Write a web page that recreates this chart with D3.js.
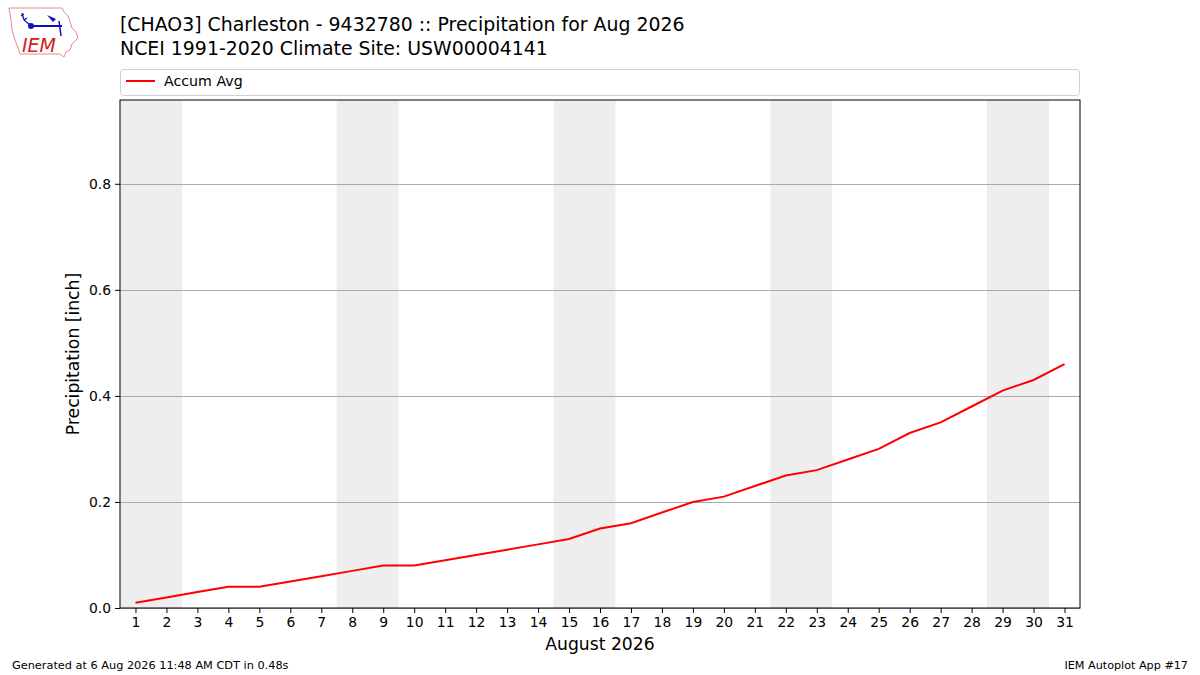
<!DOCTYPE html>
<html>
<head>
<meta charset="utf-8">
<script src="https://cdn.jsdelivr.net/npm/d3@7"></script>
<style>
body { margin: 0; background: #fff; }
text { font-family: "DejaVu Sans", sans-serif; }
</style>
</head>
<body>
<div id="chart"></div>
<script>
// accumulated average precipitation by day of month
var days = d3.range(1, 32);
var accumAvg = [0.01, 0.02, 0.03, 0.04, 0.04, 0.05, 0.06, 0.07, 0.08, 0.08,
                0.09, 0.10, 0.11, 0.12, 0.13, 0.15, 0.16, 0.18, 0.20, 0.21,
                0.23, 0.25, 0.26, 0.28, 0.30, 0.33, 0.35, 0.38, 0.41, 0.43, 0.46];
// weekend pairs (Sat, Sun)
var weekends = [[1, 2], [8, 9], [15, 16], [22, 23], [29, 30]];
var yTicks = [0.0, 0.2, 0.4, 0.6, 0.8];

var width = 1200, height = 675;
var plotLeft = 120, plotRight = 1080, plotTop = 100, plotBottom = 608;

var svg = d3.select("#chart").append("svg")
    .attr("width", width)
    .attr("height", height);

var x = d3.scaleLinear().domain([0.5, 31.5]).range([plotLeft, plotRight]);
var y = d3.scaleLinear().domain([0, 0.958]).range([plotBottom, plotTop]);

// weekend shading
svg.selectAll("rect.wk")
    .data(weekends)
    .enter()
    .append("rect")
    .attr("class", "wk")
    .attr("x", function(d) { return x(d[0] - 0.5); })
    .attr("y", plotTop)
    .attr("width", function(d) { return x(d[1] + 0.5) - x(d[0] - 0.5); })
    .attr("height", plotBottom - plotTop)
    .attr("fill", "#eeeeee");

// y grid
svg.selectAll("line.grid")
    .data(yTicks)
    .enter()
    .append("line")
    .attr("class", "grid")
    .attr("x1", plotLeft).attr("x2", plotRight)
    .attr("y1", function(d) { return Math.round(y(d)) + 0.5; })
    .attr("y2", function(d) { return Math.round(y(d)) + 0.5; })
    .attr("stroke", "#aaaaaa")
    .attr("stroke-width", 1);

// line
var line = d3.line()
    .x(function(d, i) { return x(days[i]); })
    .y(function(d) { return y(d); });

svg.append("path")
    .datum(accumAvg)
    .attr("d", line)
    .attr("fill", "none")
    .attr("stroke", "red")
    .attr("stroke-width", 2);

// frame
svg.append("rect")
    .attr("x", plotLeft).attr("y", plotTop)
    .attr("width", plotRight - plotLeft).attr("height", plotBottom - plotTop)
    .attr("fill", "none")
    .attr("stroke", "#000")
    .attr("stroke-width", 1);

// axes
var xAxis = svg.append("g")
    .attr("transform", "translate(0," + plotBottom + ")")
    .call(d3.axisBottom(x).tickValues(days).tickSize(5).tickPadding(4));
var yAxis = svg.append("g")
    .attr("transform", "translate(" + plotLeft + ",0)")
    .call(d3.axisLeft(y).tickValues(yTicks).tickFormat(d3.format(".1f")).tickSize(5).tickPadding(4));

[xAxis, yAxis].forEach(function(g) {
    g.select(".domain").remove();
    g.selectAll("text").attr("font-size", "13.9px").attr("fill", "#000")
        .attr("font-family", "DejaVu Sans");
    g.selectAll("line").attr("stroke", "#000");
});

// axis labels
svg.append("text")
    .attr("x", (plotLeft + plotRight) / 2)
    .attr("y", 650)
    .attr("text-anchor", "middle")
    .attr("font-size", "17.2px")
    .text("August 2026");

svg.append("text")
    .attr("transform", "translate(79," + ((plotTop + plotBottom) / 2) + ") rotate(-90)")
    .attr("text-anchor", "middle")
    .attr("font-size", "17.2px")
    .text("Precipitation [inch]");

// titles
svg.append("text")
    .attr("x", 120).attr("y", 31)
    .attr("font-size", "18.9px")
    .text("[CHAO3] Charleston - 9432780 :: Precipitation for Aug 2026");
svg.append("text")
    .attr("x", 120).attr("y", 55)
    .attr("font-size", "18.9px")
    .text("NCEI 1991-2020 Climate Site: USW00004141");

// legend
svg.append("rect")
    .attr("x", 120.5).attr("y", 69.5)
    .attr("width", 959).attr("height", 26)
    .attr("rx", 3)
    .attr("fill", "#fff")
    .attr("stroke", "#d0d0d0");
svg.append("line")
    .attr("x1", 126).attr("x2", 155)
    .attr("y1", 81).attr("y2", 81)
    .attr("stroke", "red").attr("stroke-width", 2);
svg.append("text")
    .attr("x", 164).attr("y", 86)
    .attr("font-size", "14.2px")
    .text("Accum Avg");

// footer
svg.append("text")
    .attr("x", 12).attr("y", 669)
    .attr("font-size", "11.3px")
    .text("Generated at 6 Aug 2026 11:48 AM CDT in 0.48s");
svg.append("text")
    .attr("x", 1188).attr("y", 669)
    .attr("text-anchor", "end")
    .attr("font-size", "11.2px")
    .text("IEM Autoplot App #17");

// logo (rough Iowa outline)
var logo = svg.append("g");
logo.append("path")
    .attr("d", "M9,8 L62,8 L64,12 L68,16 L70,22 L72,28 L76,32 L78,38 L72,44 L70,50 L66,52 L64,57 L60,54 L20,54 L18,48 L15,40 L12,30 L11,20 Z")
    .attr("fill", "#fff")
    .attr("stroke", "#e88")
    .attr("stroke-width", 1);
logo.append("line").attr("x1", 31).attr("x2", 62).attr("y1", 26).attr("y2", 26)
    .attr("stroke", "#1010c0").attr("stroke-width", 2);
logo.append("circle").attr("cx", 31).attr("cy", 26).attr("r", 3).attr("fill", "#1010c0");
logo.append("path").attr("d", "M47,15 L56,19 L53,22 Z").attr("fill", "#1010c0");
logo.append("line").attr("x1", 59).attr("x2", 61).attr("y1", 21).attr("y2", 36)
    .attr("stroke", "#1010c0").attr("stroke-width", 1.5);
logo.append("path").attr("d", "M22,13 L24,20 L30,25 M21,16 L24,14 M24,20 L27,18")
    .attr("fill", "none").attr("stroke", "#1010c0").attr("stroke-width", 1.3);
logo.append("text")
    .attr("x", 22).attr("y", 52)
    .attr("font-family", "Liberation Serif, serif")
    .attr("font-style", "italic")
    .attr("font-size", "19px")
    .attr("fill", "#d02020")
    .text("IEM");
</script>
</body>
</html>
